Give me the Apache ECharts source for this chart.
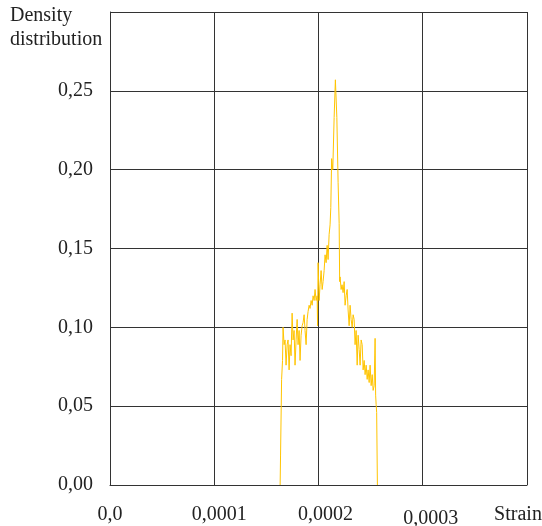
<!DOCTYPE html>
<html>
<head>
<meta charset="utf-8">
<script src="https://cdn.jsdelivr.net/npm/echarts@6/dist/echarts.min.js"></script>
<style>
  html, body { margin: 0; padding: 0; background: #fff; }
  #chart { width: 542px; height: 526px; }
</style>
</head>
<body>
<div id="chart"></div>
<script>
// strain values (x)
var strain = [
  0.0001632, 0.0001636, 0.0001646, 0.0001655, 0.0001660, 0.0001670, 0.0001679, 0.0001689,
  0.0001699, 0.0001708, 0.0001718, 0.0001727, 0.0001737, 0.0001747, 0.0001756, 0.0001766,
  0.0001775, 0.0001785, 0.0001795, 0.0001804, 0.0001814, 0.0001823, 0.0001833, 0.0001843,
  0.0001852, 0.0001862, 0.0001871, 0.0001881, 0.0001891, 0.0001900, 0.0001910, 0.0001919,
  0.0001929, 0.0001939, 0.0001948, 0.0001958, 0.0001967, 0.0001977, 0.0001987, 0.0001991,
  0.0001996, 0.0002006, 0.0002015, 0.0002025, 0.0002035, 0.0002044, 0.0002054, 0.0002063,
  0.0002073, 0.0002083, 0.0002092, 0.0002102, 0.0002111, 0.0002118, 0.0002126, 0.0002137,
  0.0002150, 0.0002162, 0.0002176, 0.0002188, 0.0002198, 0.0002203, 0.0002207, 0.0002217,
  0.0002226, 0.0002236, 0.0002246, 0.0002255, 0.0002265, 0.0002275, 0.0002284, 0.0002294,
  0.0002303, 0.0002313, 0.0002323, 0.0002332, 0.0002342, 0.0002351, 0.0002361, 0.0002371,
  0.0002380, 0.0002390, 0.0002399, 0.0002409, 0.0002419, 0.0002428, 0.0002438, 0.0002447,
  0.0002457, 0.0002467, 0.0002476, 0.0002486, 0.0002495, 0.0002505, 0.0002515, 0.0002524,
  0.0002534, 0.0002543, 0.0002548, 0.0002553, 0.0002558, 0.0002565
];
// density values (y)
var density = [
  0.000, 0.019, 0.067, 0.079, 0.100, 0.089, 0.092, 0.076,
  0.089, 0.092, 0.073, 0.089, 0.082, 0.109, 0.092, 0.098,
  0.076, 0.092, 0.105, 0.089, 0.098, 0.079, 0.095, 0.101,
  0.103, 0.108, 0.098, 0.089, 0.105, 0.110, 0.114, 0.112,
  0.117, 0.114, 0.120, 0.117, 0.124, 0.117, 0.120, 0.101,
  0.141, 0.117, 0.127, 0.136, 0.124, 0.129, 0.136, 0.146,
  0.141, 0.152, 0.143, 0.159, 0.165, 0.176, 0.207, 0.200,
  0.233, 0.257, 0.233, 0.192, 0.166, 0.129, 0.132, 0.124,
  0.127, 0.122, 0.129, 0.114, 0.120, 0.124, 0.111, 0.101,
  0.114, 0.105, 0.100, 0.108, 0.105, 0.089, 0.098, 0.076,
  0.095, 0.086, 0.076, 0.092, 0.089, 0.073, 0.079, 0.070,
  0.076, 0.067, 0.073, 0.065, 0.076, 0.063, 0.070, 0.060,
  0.063, 0.093, 0.057, 0.051, 0.046, 0.000
];
var xTickLabels = ["0,0", "0,0001", "0,0002", "0,0003", "Strain"];
var yTickLabels = ["0,00", "0,05", "0,10", "0,15", "0,20", "0,25", ""];

var points = strain.map(function (s, i) {
  return [s, density[i]];
});

var font = "Liberation Serif";
var chart = echarts.init(document.getElementById("chart"));
chart.setOption({
  animation: false,
  grid: { left: 110, right: 15, top: 12, bottom: 41, outerBoundsMode: "none" },
  graphic: [
    {
      type: "text",
      left: 10,
      top: 4,
      style: {
        text: "Density\ndistribution",
        font: "20px " + font,
        lineHeight: 24,
        fill: "#222"
      }
    }
  ],
  xAxis: {
    type: "value",
    min: 0,
    max: 0.0004,
    interval: 0.0001,
    axisLine: { show: true, lineStyle: { color: "#333", width: 1 } },
    axisTick: { show: false },
    splitLine: { show: true, lineStyle: { color: "#333", width: 1 } },
    axisLabel: {
      margin: 20,
      color: "#222",
      fontFamily: font,
      fontSize: 20,
      formatter: function (val) {
        var i = Math.round(val / 0.0001);
        return "{t" + i + "|" + xTickLabels[i] + "}";
      },
      rich: {
        t0: { fontFamily: font, fontSize: 20, color: "#222" },
        t1: { fontFamily: font, fontSize: 20, color: "#222", padding: [0, 0, 0, 10] },
        t2: { fontFamily: font, fontSize: 20, color: "#222", padding: [0, 0, 0, 14] },
        t3: { fontFamily: font, fontSize: 20, color: "#222", padding: [4, 0, 0, 16] },
        t4: { fontFamily: font, fontSize: 20, color: "#222", padding: [0, 18, 0, 0] }
      }
    }
  },
  yAxis: {
    type: "value",
    min: 0,
    max: 0.3,
    interval: 0.05,
    axisLine: { show: true, lineStyle: { color: "#333", width: 1 } },
    axisTick: { show: false },
    splitLine: { show: true, lineStyle: { color: "#333", width: 1 } },
    axisLabel: {
      margin: 17,
      color: "#222",
      fontFamily: font,
      fontSize: 20,
      formatter: function (val) {
        return yTickLabels[Math.round(val / 0.05)];
      }
    }
  },
  series: [
    {
      type: "line",
      data: points,
      showSymbol: false,
      lineStyle: { color: "#FFC400", width: 1 },
      itemStyle: { color: "#FFC400" }
    }
  ]
});
</script>
</body>
</html>
